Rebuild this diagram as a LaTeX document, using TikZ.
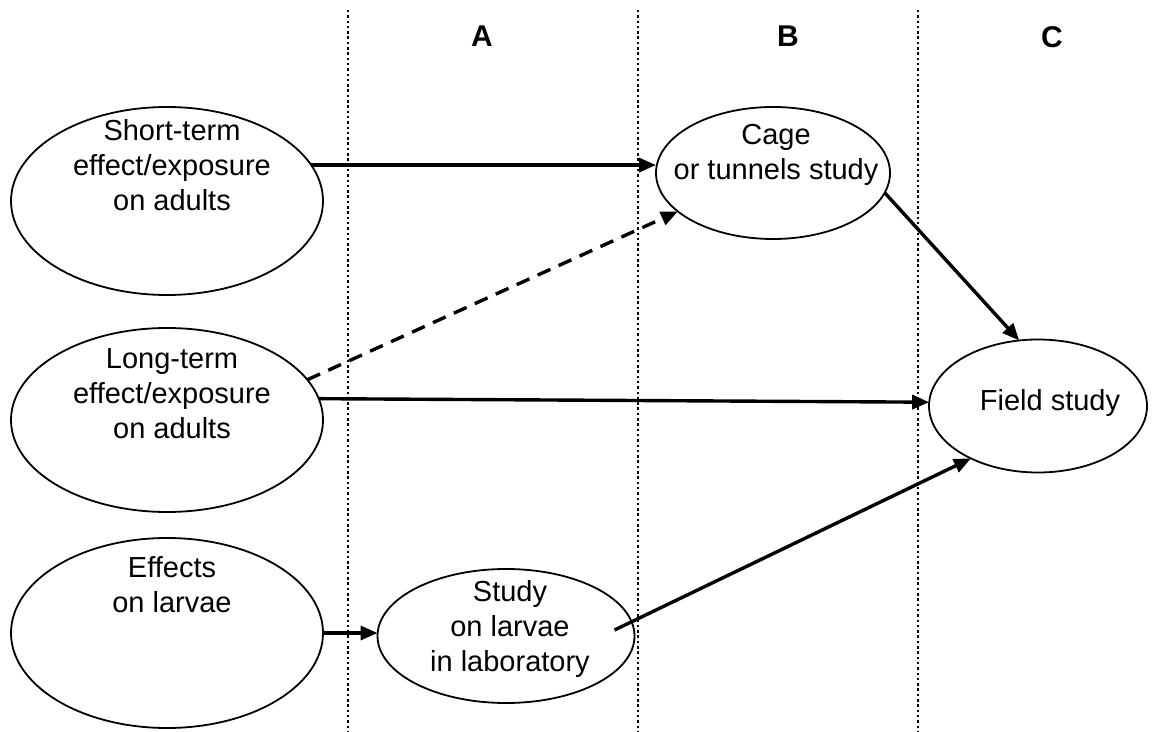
\documentclass[tikz,border=0pt]{standalone}
\usepackage{fontspec}
\setmainfont{Liberation Sans}
\usetikzlibrary{shapes.geometric,arrows.meta,positioning}

\begin{document}
\begin{tikzpicture}[x=1pt,y=1pt,
        oval/.style={draw,ellipse,line width=1.8pt,inner sep=0pt,outer sep=0pt},
        txt/.style={font=\fontsize{29}{35}\selectfont,align=center,inner sep=0pt},
        head/.style={txt,font=\fontsize{30}{35}\selectfont\bfseries},
        arr/.style={line width=3.4pt,-{Triangle[length=17pt,width=14pt]}},
        lane/.style={line width=2.5pt,dash pattern=on 2.5pt off 2.8pt}]
    \useasboundingbox (0,0) rectangle (1158,731);
    \foreach \x in {348,638,918}
        \draw[lane] (\x,721) -- (\x,0);
    \node[head] (colA) at (482,695) {A};
    \node[head] (colB) at (788,695) {B};
    \node[head] (colC) at (1052,694) {C};
    \node[oval,minimum width=312,minimum height=188] (short) at (167,530) {};
    \node[oval,minimum width=312,minimum height=184] (long) at (167,311) {};
    \node[oval,minimum width=312,minimum height=190] (larvae) at (167,98) {};
    \node[oval,minimum width=234,minimum height=132] (cage) at (773,558) {};
    \node[oval,minimum width=218,minimum height=133] (field) at (1038,325) {};
    \node[oval,minimum width=257,minimum height=134] (lab) at (506,95) {};
    \node[txt] (shorttxt) at ([shift={(5,36)}]short.center) {Short-term\\effect/exposure\\on adults};
    \node[txt] (longtxt) at ([shift={(5,26)}]long.center) {Long-term\\effect/exposure\\on adults};
    \node[txt] (larvaetxt) at ([shift={(5,48)}]larvae.center) {Effects\\on larvae};
    \node[txt] (cagetxt) at ([shift={(3,18)}]cage.center) {Cage\\or tunnels study};
    \node[txt] (fieldtxt) at ([shift={(12,3)}]field.center) {Field study};
    \node[txt] (labtxt) at ([shift={(4,7)}]lab.center) {Study\\on larvae\\in laboratory};
    \draw[arr] (short.14) -- (cage.west |- short.14);
    \draw[arr,dash pattern=on 14pt off 9pt] (long.16) -- (cage.202);
    \draw[arr] (long.8) -- (field.178);
    \draw[arr] (cage.-10) -- (field.106);
    \draw[arr] (larvae.east) -- (lab.west |- larvae.east);
    \draw[arr] ([shift={(-20,6)}]lab.east) -- (field.218);
\end{tikzpicture}
\end{document}
